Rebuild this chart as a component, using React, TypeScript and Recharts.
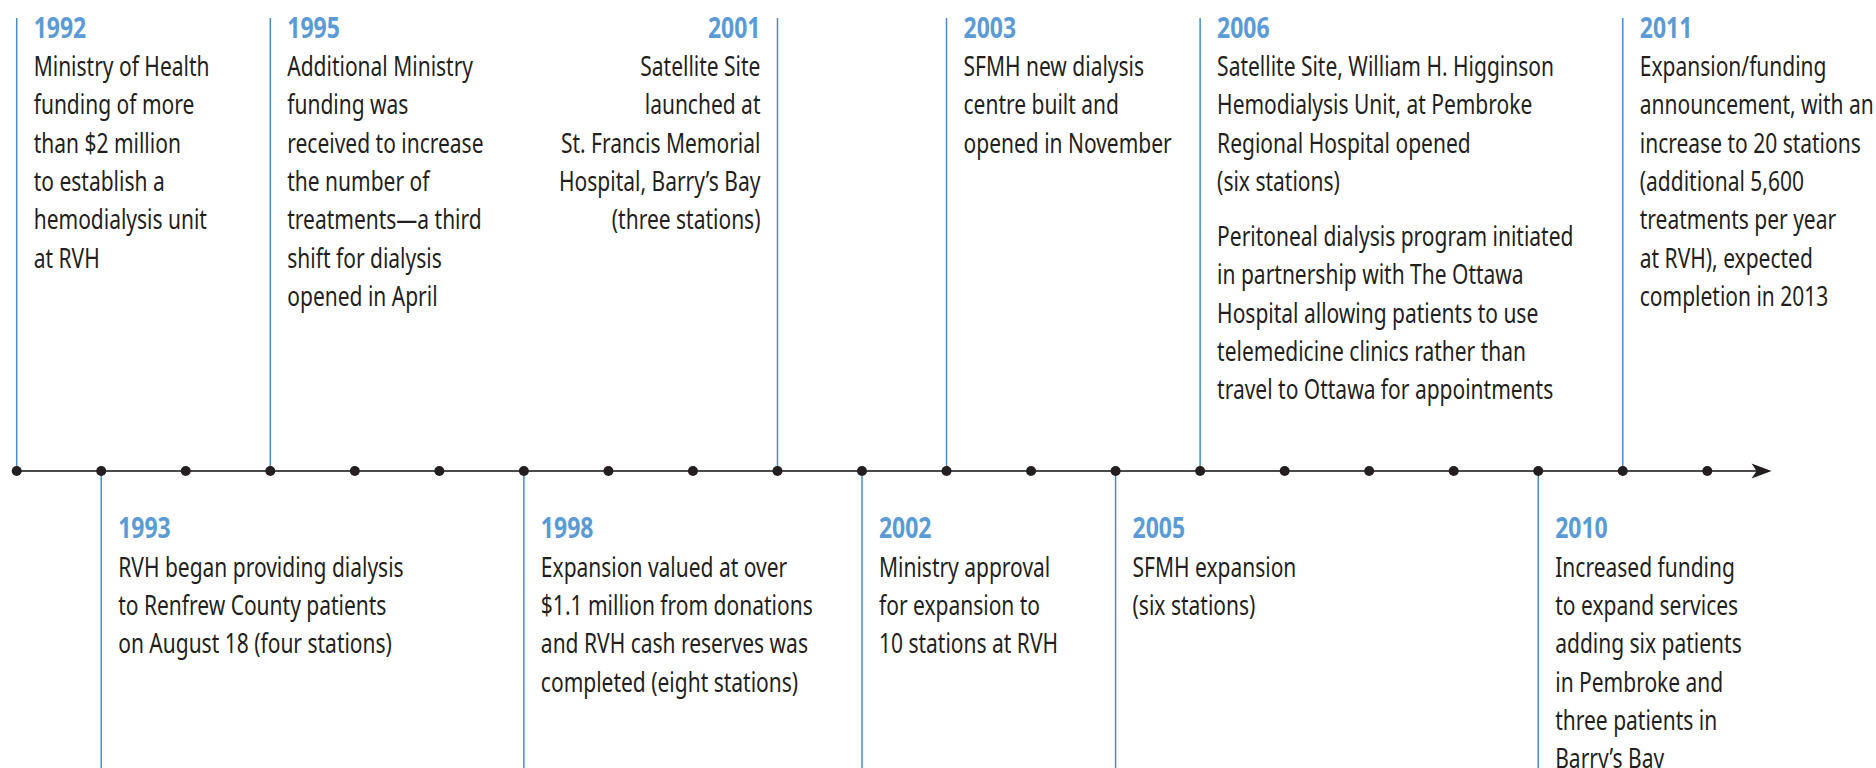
import React from 'react';
import { ScatterChart, Scatter, XAxis, YAxis, ReferenceLine } from 'recharts';

// ---- data ----
const tickYears = [1992, 1993, 1994, 1995, 1996, 1997, 1998, 1999, 2000, 2001, 2002, 2003, 2004, 2005, 2006, 2007, 2008, 2009, 2010, 2011, 2012];
const eventYears = [1992, 1993, 1995, 1998, 2001, 2002, 2003, 2005, 2006, 2010, 2011];
const eventSides = ['top', 'bottom', 'top', 'bottom', 'top', 'bottom', 'top', 'bottom', 'top', 'bottom', 'top'];
const eventAligns = ['left', 'left', 'left', 'left', 'right', 'left', 'left', 'left', 'left', 'left', 'left'];
const eventParagraphs: string[][][] = [
  [['Ministry of Health', 'funding of more', 'than $2 million', 'to establish a', 'hemodialysis unit', 'at RVH']],
  [['RVH began providing dialysis', 'to Renfrew County patients', 'on August 18 (four stations)']],
  [['Additional Ministry', 'funding was', 'received to increase', 'the number of', 'treatments\u2014a third', 'shift for dialysis', 'opened in April']],
  [['Expansion valued at over', '$1.1 million from donations', 'and RVH cash reserves was', 'completed (eight stations)']],
  [['Satellite Site', 'launched at', 'St. Francis Memorial', 'Hospital, Barry\u2019s Bay', '(three stations)']],
  [['Ministry approval', 'for expansion to', '10 stations at RVH']],
  [['SFMH new dialysis', 'centre built and', 'opened in November']],
  [['SFMH expansion', '(six stations)']],
  [
    ['Satellite Site, William H. Higginson', 'Hemodialysis Unit, at Pembroke', 'Regional Hospital opened', '(six stations)'],
    ['Peritoneal dialysis program initiated', 'in partnership with The Ottawa', 'Hospital allowing patients to use', 'telemedicine clinics rather than', 'travel to Ottawa for appointments'],
  ],
  [['Increased funding', 'to expand services', 'adding six patients', 'in Pembroke and', 'three patients in', 'Barry\u2019s Bay']],
  [['Expansion/funding', 'announcement, with an', 'increase to 20 stations', '(additional 5,600', 'treatments per year', 'at RVH), expected', 'completion in 2013']],
];

// axis extent (years) and vertical extent (pixel-like units, axis at 0)
const AXIS_START = 1992;
const AXIS_END = 2012.76;
const Y_DOMAIN: [number, number] = [-297, 471];
const TOP_LINE_END = 453;
const BOTTOM_LINE_END = -297;

const tickData = tickYears.map((y) => ({ x: y, y: 0 }));
const eventData = eventYears.map((y, i) => ({
  x: y,
  y: 0,
  side: eventSides[i],
  align: eventAligns[i],
  paragraphs: eventParagraphs[i],
}));

// ---- style ----
const BODY_FONT = "'Noto Sans', 'Open Sans', sans-serif";
const BLUE = '#5b9bd5';
const LINE_BLUE = '#4a8cc8';
const INK = '#231f20';
const BODY_SIZE = 28;
const BODY_SCALE = 0.75;
const YEAR_SIZE = 28;
const YEAR_SCALE = 0.82;
const LINE_GAP = 38.35;
const PARA_GAP = 16.7;

const squeeze = (x: number, s: number) => `matrix(${s},0,0,1,${x * (1 - s)},0)`;

const EventLabel = (props: any) => {
  const { cx, cy, payload } = props;
  if (cx == null || cy == null) return null;
  const top = payload.side === 'top';
  const right = payload.align === 'right';
  const tx = right ? cx - 17 : cx + 17;
  const anchor = right ? 'end' : 'start';
  const yearY = top ? cy - 432.7 : cy + 67.3;
  let lineY = top ? cy - 395 : cy + 105.7;
  const items: React.ReactNode[] = [];
  payload.paragraphs.forEach((para: string[], pi: number) => {
    if (pi > 0) lineY += PARA_GAP;
    para.forEach((line: string, li: number) => {
      items.push(
        <text
          key={`${pi}-${li}`}
          x={tx}
          y={lineY}
          textAnchor={anchor}
          fontFamily={BODY_FONT}
          fontSize={BODY_SIZE}
          fill={INK}
          transform={squeeze(tx, BODY_SCALE)}
        >
          {line}
        </text>
      );
      lineY += LINE_GAP;
    });
  });
  return (
    <g>
      <text
        x={tx}
        y={yearY}
        textAnchor={anchor}
        fontFamily={BODY_FONT}
        fontWeight={700}
        fontSize={YEAR_SIZE}
        fill={BLUE}
        transform={squeeze(tx, YEAR_SCALE)}
      >
        {payload.x}
      </text>
      {items}
    </g>
  );
};

const TickDot = (props: any) => {
  const { cx, cy } = props;
  if (cx == null || cy == null) return null;
  return <circle cx={cx} cy={cy} r={5} fill={INK} />;
};

const ArrowAxis = (props: any) => {
  const { x1, y1, x2, y2 } = props;
  if (x1 == null) return null;
  return (
    <g>
      <line x1={x1} y1={y1} x2={x2 - 14} y2={y2} stroke="#4a4a4a" strokeWidth={2.2} />
      <path d={`M ${x2} ${y2} L ${x2 - 20} ${y2 - 7.6} L ${x2 - 15} ${y2} L ${x2 - 20} ${y2 + 7.6} Z`} fill={INK} />
    </g>
  );
};

export default function App() {
  return (
    <div style={{ position: 'absolute', left: 0, top: 0, width: 1876, height: 768, background: '#fff' }}>
      <ScatterChart width={1876} height={768} margin={{ top: 0, right: 168.7, bottom: 0, left: 16.7 }}>
        <XAxis type="number" dataKey="x" domain={[1992, 2012]} hide />
        <YAxis type="number" dataKey="y" domain={Y_DOMAIN} hide />
        <ReferenceLine
          segment={[{ x: AXIS_START, y: 0 }, { x: AXIS_END, y: 0 }]}
          ifOverflow="visible"
          shape={ArrowAxis}
        />
        {eventYears.map((yr, i) => (
          <ReferenceLine
            key={yr}
            segment={[{ x: yr, y: 0 }, { x: yr, y: eventSides[i] === 'top' ? TOP_LINE_END : BOTTOM_LINE_END }]}
            ifOverflow="visible"
            stroke={LINE_BLUE}
            strokeWidth={1.5}
          />
        ))}
        <Scatter data={eventData} isAnimationActive={false} shape={EventLabel} />
        <Scatter data={tickData} isAnimationActive={false} shape={TickDot} />
      </ScatterChart>
    </div>
  );
}
